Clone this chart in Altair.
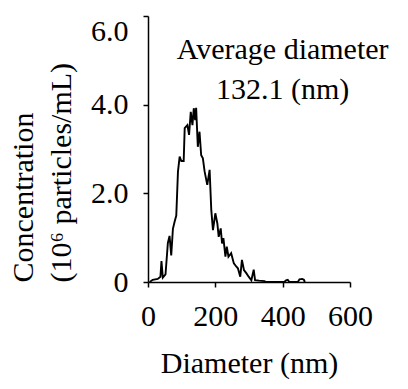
import altair as alt
import pandas as pd

# Size distribution
diameter = [5, 14, 29, 37, 40, 44, 52, 59, 64, 69, 74, 79, 84, 89, 94, 99, 106, 109,
            117, 122, 127, 132, 136, 140, 143, 148, 153, 158, 163, 168, 176, 183, 188,
            193, 200, 206, 210, 216, 220, 224, 230, 234, 239, 247, 255, 262, 267, 274,
            279, 285, 292, 299, 307, 314, 318, 330, 346, 351, 405, 410, 415, 420, 445,
            450, 458, 463, 466]
concentration = [0.0, 0.05, 0.07, 0.12, 0.47, 0.10, 0.17, 0.88, 1.04, 0.60, 1.20, 1.36,
                 1.50, 2.49, 2.83, 2.73, 2.73, 3.47, 3.54, 3.32, 3.84, 3.54, 3.92, 3.65,
                 3.93, 3.05, 3.39, 2.86, 2.79, 2.50, 2.19, 2.53, 1.62, 1.17, 1.55, 1.32,
                 1.02, 1.21, 0.87, 0.99, 0.57, 0.80, 0.57, 0.65, 0.42, 0.35, 0.31, 0.12,
                 0.50, 0.27, 0.20, 0.12, 0.04, 0.28, 0.04, 0.03, 0.02, 0.0, 0.0, 0.04,
                 0.05, 0.0, 0.0, 0.06, 0.07, 0.05, 0.0]

x_ticks = [0, 200, 400, 600]
y_ticks = [0, 2, 4, 6]

ann_x = [400]
ann_y = [5.03]
ann_text = ["Average diameter\n132.1 (nm)"]

FONT = "Liberation Serif"
FS = 30

df = pd.DataFrame({"diameter": diameter, "concentration": concentration})
ann = pd.DataFrame({"x": ann_x, "y": ann_y, "t": ann_text})

xscale = alt.Scale(domain=[0, 600], nice=False)
yscale = alt.Scale(domain=[0, 6], nice=False)

line = alt.Chart(df).mark_line(color="black", strokeWidth=1.9).encode(
    x=alt.X("diameter:Q", scale=xscale,
            axis=alt.Axis(values=x_ticks, title="Diameter (nm)", labelPadding=14,
                          labelOverlap=False, labelFlush=False,
                          titleBaseline="alphabetic", titleY=90)),
    y=alt.Y("concentration:Q", scale=yscale,
            axis=alt.Axis(values=y_ticks,
                          labelExpr="datum.value == 0 ? '0' : format(datum.value, '.1f')",
                          labelBaseline=alt.expr("datum.value == 6 ? 'top' : 'middle'"),
                          labelPadding=15, labelOverlap=False, labelFlush=False,
                          title=["Concentration", "(10⁶ particles/mL)"],
                          titleAngle=270, titleAlign="left", titleBaseline="alphabetic",
                          titleX=-116, titleY=266, titleLineHeight=38)),
)

text = alt.Chart(ann).mark_text(font=FONT, fontSize=FS, color="black", align="center",
                                baseline="alphabetic", lineBreak="\n", lineHeight=40).encode(
    x=alt.X("x:Q", scale=xscale), y=alt.Y("y:Q", scale=yscale), text="t:N")

chart = (line + text).properties(
    width=202, height=266, autosize="none",
    padding={"left": 140, "top": 8, "right": 50, "bottom": 105},
).configure_view(stroke=None).configure_axis(
    grid=False, domainColor="black", domainWidth=1.5, tickColor="black", tickWidth=1.5,
    tickSize=5, labelFont=FONT, labelFontSize=FS, labelColor="black",
    titleFont=FONT, titleFontSize=FS, titleFontWeight="normal", titleColor="black",
)

chart.save("out.html", embed_options={"renderer": "svg", "actions": False})
